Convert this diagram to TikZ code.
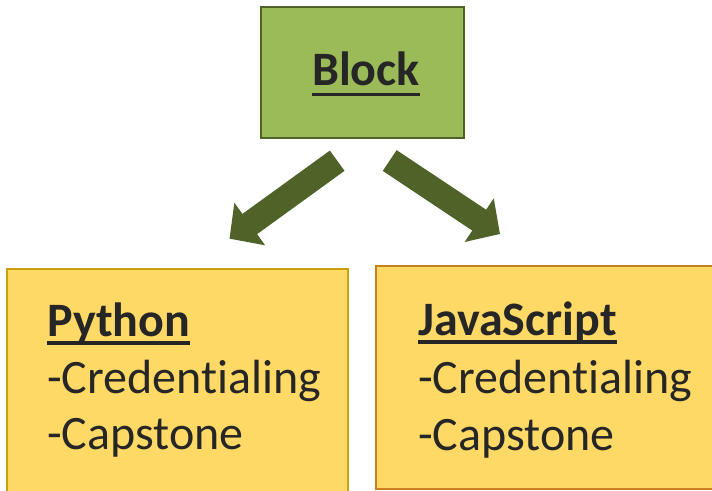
\documentclass[tikz,border=0pt]{standalone}
\usepackage{fontspec}
\setmainfont{Carlito}[Ligatures=NoCommon]
\usetikzlibrary{arrows.meta}
\definecolor{blockfill}{HTML}{9BBB59}
\definecolor{blockline}{HTML}{4F6228}
\definecolor{arrowcol}{HTML}{4F6228}
\definecolor{yfill}{HTML}{FFD966}
\definecolor{pyline}{HTML}{C9A00F}
\definecolor{jsline}{HTML}{C8801E}
\definecolor{txt}{HTML}{262626}
\newcommand\myul[2]{\setbox0\hbox{#2}\rlap{\rule[#1]{\wd0}{3.3pt}}\box0}
\begin{document}
\begin{tikzpicture}[x=1pt,y=-1pt,
  bigtext/.style={font=\fontsize{48}{57}\selectfont, text=txt, inner sep=0pt, anchor=base west},
  boldtext/.style={bigtext, font=\fontsize{48}{57}\selectfont\bfseries},
  fatarrow/.style={draw=arrowcol, line width=25pt, -{Triangle[width=51pt,length=25pt]}},
  ybox/.style={rectangle, fill=yfill, line width=2.5pt, inner sep=0pt}]
\useasboundingbox (0,0) rectangle (712,490);
\clip (0,0) rectangle (712,490);
\node[rectangle, fill=blockfill, draw=blockline, line width=2.5pt, minimum width=203pt, minimum height=131pt, inner sep=0pt] (block) at (362.5,72.5) {};
\node[boldtext] (blocktext) at (312,85) {\myul{-11pt}{Block}};
\node[ybox, draw=pyline, minimum width=341pt, minimum height=250pt] (python) at (177.5,394) {};
\node[ybox, draw=jsline, minimum width=360pt, minimum height=223pt] (js) at (556,377.5) {};
\node[boldtext] (py1) at (47,336) {\myul{-8.5pt}{Python}};
\node[bigtext] (py2) at (47,393) {-Credentialing};
\node[bigtext] (py3) at (47,449) {-Capstone};
\node[boldtext] (js1) at (418,335) {\myul{-8.5pt}{JavaScript}};
\node[bigtext] (js2) at (418,393) {-Credentialing};
\node[bigtext] (js3) at (418,450) {-Capstone};
\coordinate (la) at (337.2,160.7);
\coordinate (lb) at (229.5,238.7);
\coordinate (ra) at (389.7,160.5);
\coordinate (rb) at (500,234);
\draw[fatarrow] (la) -- (lb);
\draw[fatarrow] (ra) -- (rb);
\end{tikzpicture}
\end{document}
